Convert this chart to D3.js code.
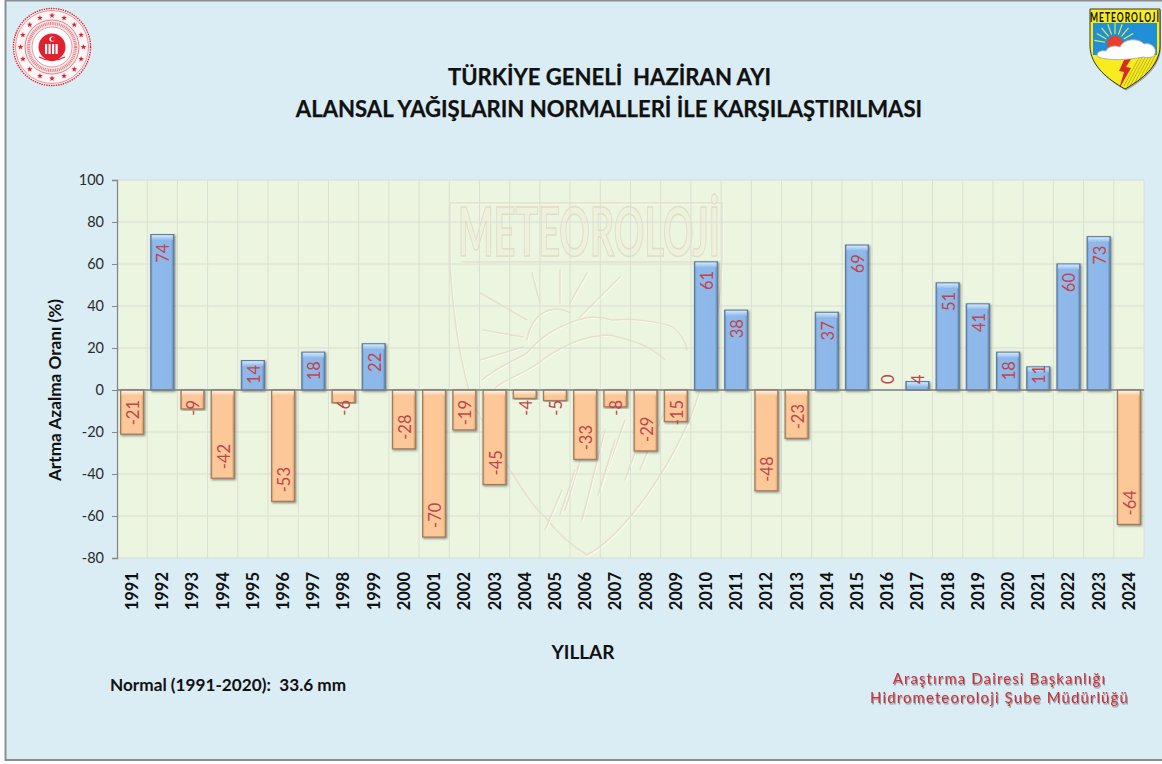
<!DOCTYPE html>
<html>
<head>
<meta charset="utf-8">
<script src="https://cdn.jsdelivr.net/npm/d3@7/dist/d3.min.js"></script>
<style>
html, body { margin: 0; padding: 0; background: #fff; }
svg { display: block; font-family: Lato, "Open Sans", sans-serif; }
</style>
</head>
<body>
<div id="chart"></div>
<script>
var years = d3.range(1991, 2025).map(String);
var values = [-21, 74, -9, -42, 14, -53, 18, -6, 22, -28, -70, -19, -45, -4, -5, -33, -8, -29, -15,
    61, 38, -48, -23, 37, 69, 0, 4, 51, 41, 18, 11, 60, 73, -64];
var yTicks = [100, 80, 60, 40, 20, 0, -20, -40, -60, -80];
var titleLines = ["TÜRKİYE GENELİ  HAZİRAN AYI", "ALANSAL YAĞIŞLARIN NORMALLERİ İLE KARŞILAŞTIRILMASI"];
var footerLines = ["Araştırma Dairesi Başkanlığı", "Hidrometeoroloji Şube Müdürlüğü"];

var data = years.map(function (y, i) {
    return { year: y, value: values[i] };
});

var width = 1162, height = 764;
var margin = { top: 180, right: 18, bottom: 206, left: 117 };
var plotW = width - margin.left - margin.right,
    plotH = height - margin.top - margin.bottom;

var svg = d3.select("#chart").append("svg")
    .attr("width", width)
    .attr("height", height)
    .style("font-kerning", "normal");

var defs = svg.append("defs");

function gradient(id, x2, y2, stops) {
    var g = defs.append("linearGradient").attr("id", id)
        .attr("x1", 0).attr("y1", 0).attr("x2", x2).attr("y2", y2);
    stops.forEach(function (s) {
        g.append("stop").attr("offset", s[0]).attr("stop-color", s[1]);
    });
}
gradient("blueBody", 1, 0, [[0, "#6f9ad0"], [.1, "#8fb9ea"], [.88, "#8db7e8"], [1, "#5f88ba"]]);
gradient("orangeBody", 1, 0, [[0, "#e5a878"], [.1, "#fcc899"], [.88, "#fcc898"], [1, "#d69a6c"]]);
gradient("blueTop", 0, 1, [[0, "#d2e8fc"], [1, "#8fb9ea"]]);
gradient("orangeTop", 0, 1, [[0, "#fff3e2"], [1, "#fcc899"]]);

var shadow = defs.append("filter").attr("id", "barShadow")
    .attr("x", "-20%").attr("y", "-10%").attr("width", "150%").attr("height", "120%");
shadow.append("feDropShadow").attr("dx", 1).attr("dy", 1.2).attr("stdDeviation", .8)
    .attr("flood-color", "#444").attr("flood-opacity", .6);

var textShadow = defs.append("filter").attr("id", "textShadow")
    .attr("x", "-5%").attr("y", "-20%").attr("width", "110%").attr("height", "150%");
textShadow.append("feDropShadow").attr("dx", 1).attr("dy", 1.5).attr("stdDeviation", .7)
    .attr("flood-color", "#555").attr("flood-opacity", .6);

// page frame
svg.append("rect")
    .attr("x", 5.5).attr("y", .5)
    .attr("width", width).attr("height", 759.5)
    .attr("fill", "#daecf4")
    .attr("stroke", "#8c8f91")
    .attr("stroke-width", 2);

var x = d3.scaleBand().domain(years).range([margin.left, width - margin.right]);
var y = d3.scaleLinear().domain([-80, 100]).range([height - margin.bottom, margin.top]);

// plot area and grid
svg.append("rect")
    .attr("x", margin.left).attr("y", margin.top)
    .attr("width", plotW).attr("height", plotH)
    .attr("fill", "#ecf5df");

drawWatermark(svg);

svg.append("g").selectAll("line")
    .data(yTicks)
    .enter().append("line")
    .attr("x1", margin.left).attr("x2", margin.left + plotW)
    .attr("y1", function (d) { return y(d); })
    .attr("y2", function (d) { return y(d); })
    .attr("stroke", "#d9dcd2")
    .attr("stroke-width", 1.2);

svg.append("g").selectAll("line")
    .data(years)
    .enter().append("line")
    .attr("x1", function (d) { return x(d) + x.bandwidth(); })
    .attr("x2", function (d) { return x(d) + x.bandwidth(); })
    .attr("y1", margin.top).attr("y2", margin.top + plotH)
    .attr("stroke", "#dcdfd3")
    .attr("stroke-width", 1);

// bars
var barW = 23;
var bars = svg.append("g").selectAll("g")
    .data(data.filter(function (d) { return d.value !== 0; }))
    .enter().append("g");

bars.append("rect")
    .attr("x", function (d) { return x(d.year) + (x.bandwidth() - barW) / 2; })
    .attr("y", function (d) { return Math.min(y(d.value), y(0)); })
    .attr("width", barW)
    .attr("height", function (d) { return Math.abs(y(d.value) - y(0)); })
    .attr("fill", function (d) { return d.value > 0 ? "url(#blueBody)" : "url(#orangeBody)"; })
    .attr("stroke", function (d) { return d.value > 0 ? "#5f7d9f" : "#a07c60"; })
    .attr("stroke-width", 1.2)
    .attr("filter", "url(#barShadow)");

bars.append("rect")
    .attr("x", function (d) { return x(d.year) + (x.bandwidth() - barW) / 2 + 1; })
    .attr("y", function (d) { return Math.min(y(d.value), y(0)) + .6; })
    .attr("width", barW - 2)
    .attr("height", function (d) { return Math.min(5, Math.abs(y(d.value) - y(0)) - 1); })
    .attr("fill", function (d) { return d.value > 0 ? "url(#blueTop)" : "url(#orangeTop)"; });

// axes
var yAxis = d3.axisLeft(y).tickValues(yTicks).tickSize(5).tickPadding(8).tickFormat(String);
var gy = svg.append("g")
    .attr("transform", "translate(" + margin.left + ",0)")
    .call(yAxis);
gy.select(".domain").attr("stroke", "#85888a").attr("stroke-width", 1.3);
gy.selectAll(".tick line").attr("stroke", "#85888a");
gy.selectAll(".tick text")
    .attr("fill", "#2b2b2b")
    .style("font-size", "14.5px")
    .style("font-family", "Lato");

// zero line sits over the bars
svg.append("line")
    .attr("x1", margin.left).attr("x2", margin.left + plotW)
    .attr("y1", y(0)).attr("y2", y(0))
    .attr("stroke", "#7d8184")
    .attr("stroke-width", 1.3);

var xAxis = d3.axisBottom(x).tickSize(0);
var gx = svg.append("g")
    .attr("transform", "translate(0," + (margin.top + plotH) + ")")
    .call(xAxis);
gx.select(".domain").remove();
gx.selectAll(".tick text")
    .attr("transform", "rotate(-90)")
    .attr("x", -14)
    .attr("y", 0)
    .attr("dy", ".36em")
    .attr("text-anchor", "end")
    .attr("fill", "#111")
    .style("font-size", "16.5px")
    .style("font-weight", 700)
    .style("font-family", "Lato");

// value labels, rotated, pushed inside the bar end
var labels = svg.append("g").selectAll("text")
    .data(data)
    .enter().append("text")
    .attr("text-anchor", "middle")
    .attr("dy", ".42em")
    .attr("fill", "#c0454a")
    .style("font-size", "16.5px")
    .text(function (d) { return d.value; });

labels.attr("transform", function (d) {
    var len = this.getComputedTextLength();
    var cy;
    if (d.value >= 0) {
        cy = Math.min(y(d.value) + 9 + len / 2, y(0) - 6 - len / 2);
    } else {
        cy = Math.max(y(d.value) - 9 - len / 2, y(0) + 10 + len / 2);
    }
    return "translate(" + (x(d.year) + x.bandwidth() / 2) + "," + cy + ") rotate(-90)";
});

// titles
svg.append("g").selectAll("text")
    .data(titleLines)
    .enter().append("text")
    .attr("x", function (d, i) { return i === 0 ? 609.5 : 609; })
    .attr("y", function (d, i) { return i === 0 ? 85 : 117; })
    .attr("text-anchor", "middle")
    .attr("fill", "#111")
    .attr("stroke", "#111")
    .attr("stroke-width", .25)
    .style("font-size", "22.1px")
    .style("font-weight", 700)
    .style("white-space", "pre")
    .text(function (d) { return d; });

svg.append("text")
    .attr("transform", "translate(61,390) rotate(-90)")
    .attr("text-anchor", "middle")
    .attr("fill", "#111")
    .style("font-size", "17.2px")
    .style("font-weight", 700)
    .text("Artma Azalma Oranı (%)");

svg.append("text")
    .attr("x", 583).attr("y", 659)
    .attr("text-anchor", "middle")
    .attr("fill", "#111")
    .style("font-size", "19px")
    .style("font-weight", 700)
    .text("YILLAR");

svg.append("text")
    .attr("x", 110).attr("y", 691)
    .attr("fill", "#111")
    .style("font-size", "17.2px")
    .style("font-weight", 700)
    .style("white-space", "pre")
    .text("Normal (1991-2020):  33.6 mm");

svg.append("g").selectAll("text")
    .data(footerLines)
    .enter().append("text")
    .attr("x", 999.5)
    .attr("y", function (d, i) { return 684 + i * 19; })
    .attr("text-anchor", "middle")
    .attr("fill", "#c8323a")
    .attr("filter", "url(#textShadow)")
    .style("font-size", "14.8px")
    .style("letter-spacing", "1.2px")
    .text(function (d) { return d; });

drawSeal(svg);
drawBadge(svg);

function starPath(cx, cy, r) {
    var pts = d3.range(10).map(function (i) {
        var a = -Math.PI / 2 + i * Math.PI / 5, rr = i % 2 ? r * .42 : r;
        return [cx + rr * Math.cos(a), cy + rr * Math.sin(a)];
    });
    return "M" + pts.join("L") + "Z";
}

function drawSeal(svg) {
    var red = "#e0212f", g = svg.append("g").attr("transform", "translate(52,47)");
    g.append("circle").attr("r", 38.5).attr("fill", "#fdf6f7")
        .attr("stroke", red).attr("stroke-width", 1.4).attr("stroke-dasharray", "1.4 1");
    g.append("circle").attr("r", 36.5).attr("fill", "none").attr("stroke", red).attr("stroke-width", .5);
    d3.range(16).forEach(function (i) {
        var a = i * Math.PI / 8;
        g.append("path").attr("d", starPath(31.5 * Math.cos(a), 31.5 * Math.sin(a), 3)).attr("fill", red);
    });
    g.append("circle").attr("r", 27).attr("fill", "#fbeaec").attr("stroke", "#d8606a").attr("stroke-width", .8);
    g.append("circle").attr("r", 23.5).attr("fill", "none").attr("stroke", "#e08088").attr("stroke-width", 3.2).attr("stroke-dasharray", "1 .8");
    g.append("circle").attr("r", 20).attr("fill", "#fff").attr("stroke", "#e08088").attr("stroke-width", .8);
    g.append("circle").attr("r", 13.5).attr("fill", red);
    g.append("circle").attr("cx", 0).attr("cy", -8).attr("r", 2.6).attr("fill", "#fff");
    g.append("circle").attr("cx", .9).attr("cy", -8).attr("r", 2.1).attr("fill", red);
    [-7, -3.5, 0, 3.5].forEach(function (dx) {
        g.append("rect").attr("x", dx).attr("y", -3).attr("width", 2.2).attr("height", 10).attr("fill", "#fff");
    });
    g.append("path").attr("d", "M-13 10 Q0 17 13 10").attr("fill", "none").attr("stroke", red).attr("stroke-width", 1.3);
}

function drawBadge(svg) {
    var g = svg.append("g").attr("transform", "translate(1089,8)");
    var shield = "M1 1 H71 V38 C71 58 52 72 36 81 C20 72 1 58 1 38 Z";
    defs.append("clipPath").attr("id", "shieldClip").append("path").attr("d", shield);
    g.append("path").attr("d", shield).attr("transform", "translate(1,1.5)").attr("fill", "#666").attr("opacity", .5);
    g.append("path").attr("d", shield).attr("fill", "#f7ec1e");
    var c = g.append("g").attr("clip-path", "url(#shieldClip)");
    c.append("rect").attr("x", 4).attr("y", 15).attr("width", 64).attr("height", 32).attr("fill", "#1f8fd8");
    c.append("circle").attr("cx", 26).attr("cy", 36).attr("r", 8).attr("fill", "#e8402a");
    d3.range(9).forEach(function (i) {
        var a = Math.PI + (i + .5) * Math.PI / 9;
        c.append("line")
            .attr("x1", 26 + 10 * Math.cos(a)).attr("y1", 36 + 10 * Math.sin(a))
            .attr("x2", 26 + 21 * Math.cos(a)).attr("y2", 36 + 21 * Math.sin(a))
            .attr("stroke", "#e6ec40").attr("stroke-width", 1.2);
    });
    d3.range(8).forEach(function (i) {
        c.append("line")
            .attr("x1", 52 + i * 3).attr("y1", 46)
            .attr("x2", 35 + i * 3).attr("y2", 78)
            .attr("stroke", "#a69a20").attr("stroke-width", .7);
    });
    c.append("path")
        .attr("d", "M9 49 C6 44 12 42 17 43 C19 38 26 37 31 39 C35 30 50 30 55 36 C62 34 68 40 66 46 C65 50 58 50 54 49 C40 52 20 53 9 49 Z")
        .attr("fill", "#fff").attr("stroke", "#aaa").attr("stroke-width", .9);
    c.append("path").attr("d", "M35 52 L30 63 L35 64 L30 81 L42 60 L37 59 L42 51 Z").attr("fill", "#d92a20");
    g.append("path").attr("d", shield).attr("fill", "none").attr("stroke", "#222").attr("stroke-width", .9);
    // narrow letters, stretched upward to fill the top band of the shield
    g.append("text")
        .attr("transform", "translate(36,13.5) scale(1,1.45)")
        .attr("text-anchor", "middle")
        .attr("fill", "#111")
        .style("font-family", "'Liberation Sans Narrow', Lato, sans-serif")
        .style("font-size", "8.5px").style("font-weight", 700)
        .style("letter-spacing", "1px")
        .text("METEOROLOJİ");
}

function drawWatermark(svg) {
    var g = svg.append("g").attr("fill", "none").attr("stroke-linecap", "round");
    var shapes = [
        "M450 203 H722 V260 C720 320 710 365 700 390 C690 425 665 475 630 517 C615 535 600 548 587 555 C570 545 555 530 545 517 C525 500 495 445 473 403 C460 365 452 310 450 260 Z",
        "M462 262 H712",
        "M527 340 C530 322 540 312 550 310 C558 308 565 310 570 313",
        "M480 293 L527 320", "M483 330 L523 337", "M532 273 L540 303", "M560 270 L560 303",
        "M587 273 L570 303", "M620 277 L580 317", "M480 360 L523 347",
        "M482 380 C495 368 512 362 527 353 C540 338 555 328 570 323 C585 316 600 316 612 320 C635 318 660 322 673 327 C682 335 686 342 687 350",
        "M495 388 C510 376 530 372 545 358 C565 345 585 335 610 335 C630 340 650 345 665 360",
        "M562 490 L545 530", "M585 445 L565 510", "M605 430 L582 520", "M625 420 L600 490",
        "M645 425 L625 480", "M665 410 L640 470", "M615 440 L598 495", "M575 470 L560 515"
    ];
    shapes.forEach(function (d) {
        g.append("path").attr("d", d).attr("transform", "translate(1,1)").attr("stroke", "#fbfbf2").attr("stroke-width", 1.2);
        g.append("path").attr("d", d).attr("stroke", "#e4e0ca").attr("stroke-width", 1.5);
    });
    svg.append("text")
        .attr("x", 589).attr("y", 256)
        .attr("text-anchor", "middle")
        .attr("fill", "#eef2dc")
        .attr("stroke", "#e0ddc6")
        .attr("stroke-width", 1.4)
        .style("font-family", "'Liberation Sans Narrow', Lato, sans-serif")
        .style("font-size", "66px")
        .style("font-weight", 700)
        .attr("textLength", 262)
        .attr("lengthAdjust", "spacingAndGlyphs")
        .text("METEOROLOJİ");
}
</script>
</body>
</html>
